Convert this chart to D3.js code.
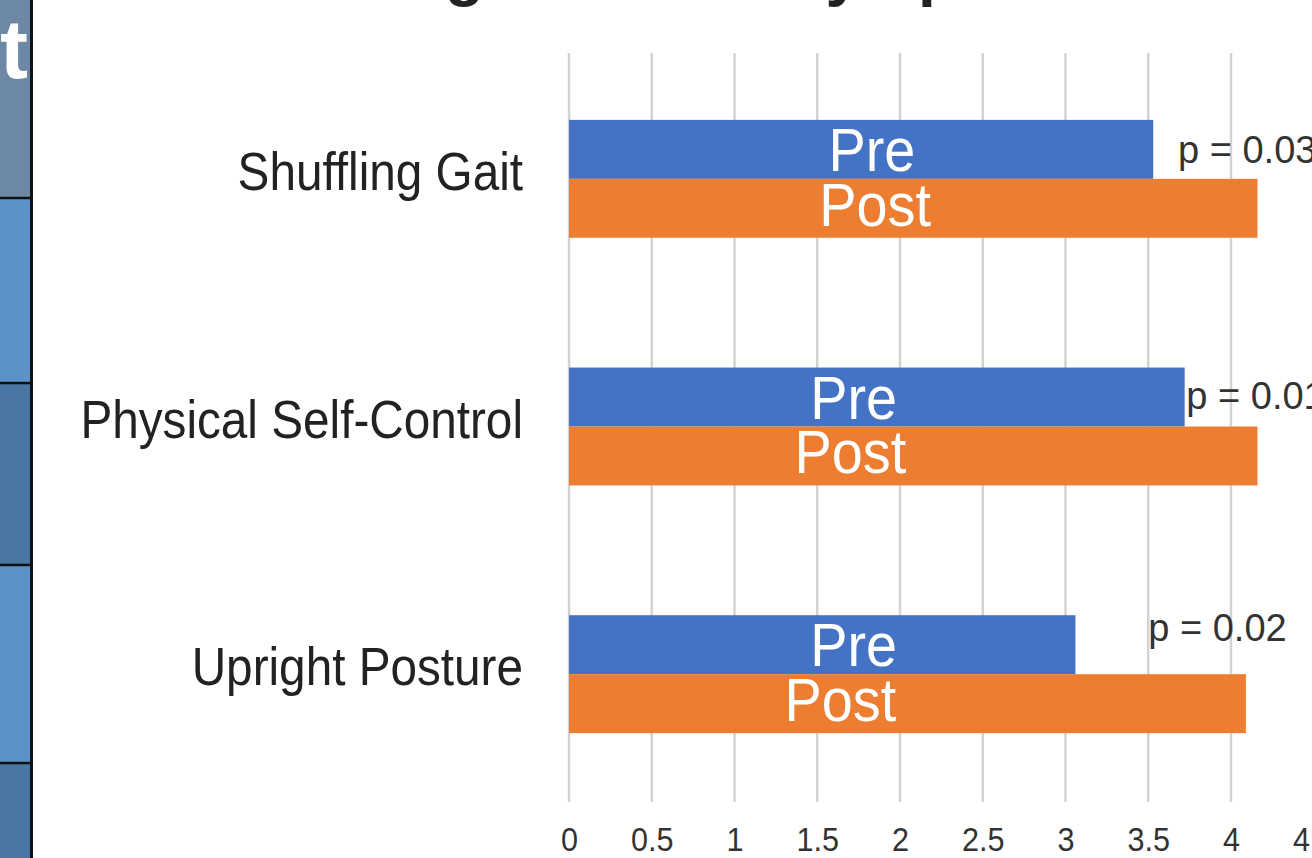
<!DOCTYPE html>
<html>
<head>
<meta charset="utf-8">
<script src="https://cdn.jsdelivr.net/npm/d3@7"></script>
<style>
  html, body { margin: 0; padding: 0; background: #fff; overflow: hidden; }
  svg { display: block; }
  text { font-family: "Liberation Sans", Arial, sans-serif; }
</style>
</head>
<body>
<svg id="chart" width="1312" height="858"></svg>
<script>
// Symptom ratings before and after the programme
const categories = ["Shuffling Gait", "Physical Self-Control", "Upright Posture"];
const series = ["Pre", "Post"];
const preValues = [3.53, 3.72, 3.06];
const postValues = [4.16, 4.16, 4.09];
const pValues = ["p = 0.03", "p = 0.01", "p = 0.02"];
// where each annotation sits, in rating units
const pLabelAt = [3.68, 3.73, 3.50];
const preLabelAt = [1.83, 1.72, 1.72];
const postLabelAt = [1.85, 1.70, 1.64];
const tickValues = [0, 0.5, 1, 1.5, 2, 2.5, 3, 3.5, 4, 4.5];
const tickLabels = ["0", "0.5", "1", "1.5", "2", "2.5", "3", "3.5", "4", "4.5"];
const titleText = "Change in Each Symptom";

// side panel cells of the neighbouring slide element
const panelCells = [
  { h: 198, color: "#6d88a7" },
  { h: 185, color: "#5c92c8" },
  { h: 182, color: "#4a76a4" },
  { h: 198, color: "#5c91c7" },
  { h: 120, color: "#4a76a4" }
];

const colors = { Pre: "#4472c4", Post: "#ed7d31" };

const svg = d3.select("#chart");

// ---- side panel ----
const panel = svg.append("g");
let yAcc = 0;
panelCells.forEach((c) => {
  panel.append("rect").attr("x", 0).attr("y", yAcc).attr("width", 31).attr("height", c.h).attr("fill", c.color);
  if (yAcc > 0) {
    panel.append("line").attr("x1", 0).attr("x2", 31).attr("y1", yAcc).attr("y2", yAcc)
      .attr("stroke", "#111").attr("stroke-width", 2.5);
  }
  yAcc += c.h;
});
panel.append("line").attr("x1", 31.5).attr("x2", 31.5).attr("y1", 0).attr("y2", 858)
  .attr("stroke", "#111").attr("stroke-width", 3);
panel.append("text").attr("x", 28).attr("y", 78).attr("text-anchor", "end")
  .attr("font-family", "'Open Sans', sans-serif").attr("font-weight", 700)
  .attr("font-size", 84).attr("fill", "#fff").text("t");

// ---- scales ----
const x = d3.scaleLinear().domain([0, 4.5]).range([569, 569 + 4.5 * 165.5]);
const y = d3.scaleBand().domain(categories).range([55, 798]).paddingInner(0.524).paddingOuter(0.262);
const ySub = d3.scaleBand().domain(series).range([0, y.bandwidth()]);

// ---- title (sits above the visible area) ----
svg.append("text").attr("x", 285).attr("y", -6)
  .attr("font-size", 64).attr("font-weight", 700).attr("fill", "#222").text(titleText);

// ---- gridlines & ticks ----
const grid = svg.append("g");
grid.selectAll("line").data(tickValues).join("line")
  .attr("x1", d => x(d)).attr("x2", d => x(d))
  .attr("y1", 53).attr("y2", 802)
  .attr("stroke", "#d3d3d3").attr("stroke-width", 2.5);

const axis = d3.axisBottom(x).tickValues(tickValues)
  .tickFormat((d, i) => tickLabels[i]).tickSize(0).tickPadding(0);
const axisG = svg.append("g").attr("transform", "translate(0,851)").call(axis);
axisG.select(".domain").remove();
axisG.selectAll(".tick text")
  .attr("y", 0).attr("dy", 0)
  .attr("font-size", 34).attr("fill", "#333")
  .attr("font-family", "'Liberation Sans', Arial, sans-serif")
  .attr("transform", "scale(0.9,1)");

// ---- bars ----
const rows = categories.map((c, i) => ({
  category: c,
  values: [
    { key: "Pre", value: preValues[i], labelAt: preLabelAt[i] },
    { key: "Post", value: postValues[i], labelAt: postLabelAt[i] }
  ],
  p: pValues[i],
  pAt: pLabelAt[i]
}));

const groups = svg.append("g").selectAll("g").data(rows).join("g")
  .attr("transform", d => `translate(0,${y(d.category)})`);

groups.selectAll("rect").data(d => d.values).join("rect")
  .attr("x", x(0))
  .attr("y", d => ySub(d.key))
  .attr("width", d => x(d.value) - x(0))
  .attr("height", ySub.bandwidth())
  .attr("fill", d => colors[d.key]);

// series names inside the bars
groups.selectAll("text.inbar").data(d => d.values).join("text")
  .attr("class", "inbar")
  .attr("transform", d => `translate(${x(d.labelAt)},${ySub(d.key) + ySub.bandwidth() - (d.key === "Pre" ? 8 : 12)}) scale(0.9,1)`)
  .attr("text-anchor", "middle")
  .attr("font-size", 62).attr("fill", "#fff")
  .text(d => d.key);

// significance notes
const pShift = [14, 12, -4];
groups.append("text")
  .attr("x", d => x(d.pAt))
  .attr("y", (d, i) => ySub("Pre") + ySub.bandwidth() / 2 + pShift[i])
  .attr("font-size", 38).attr("fill", "#333")
  .text(d => d.p);

// category labels
svg.append("g").selectAll("text").data(categories).join("text")
  .attr("transform", d => `translate(523,${y(d) + y.bandwidth() / 2 + 11}) scale(0.9,1)`)
  .attr("text-anchor", "end")
  .attr("font-size", 53).attr("fill", "#222")
  .text(d => d);
</script>
</body>
</html>
